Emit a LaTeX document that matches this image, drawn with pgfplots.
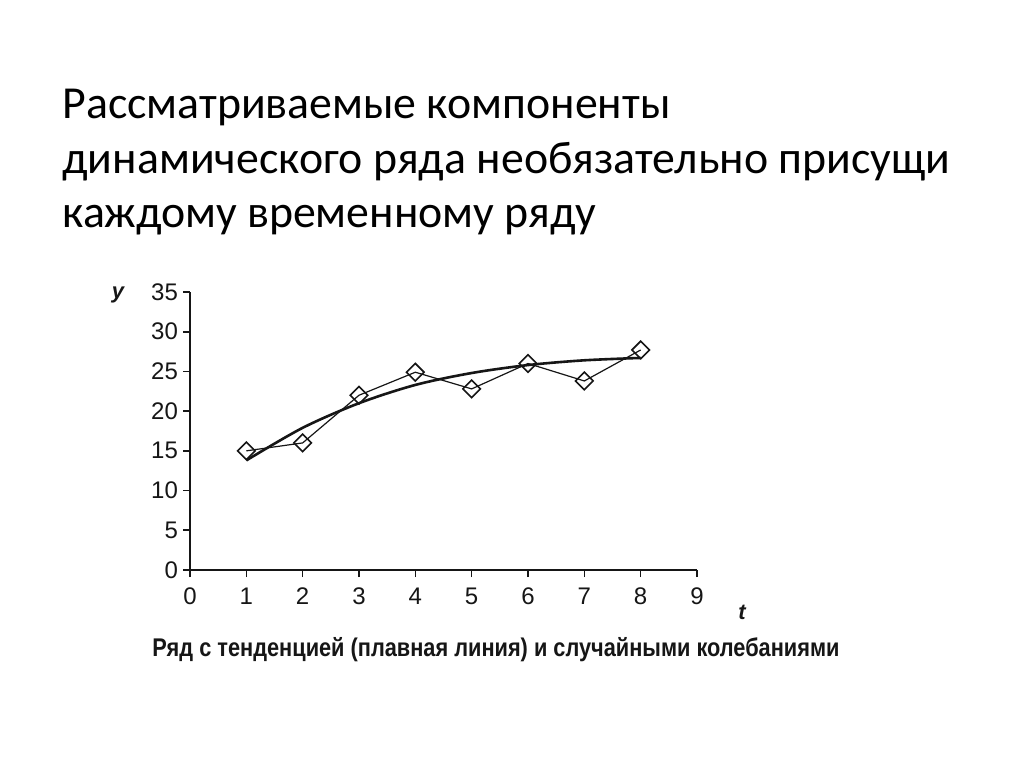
\documentclass[border=0pt]{standalone}
\usepackage{pgfplots}
\pgfplotsset{compat=1.18}
\usepackage{fontspec}
\setmainfont{Liberation Sans}
\newfontfamily\titlefont{Carlito}
\newfontfamily\capfont[FakeStretch=0.85]{Liberation Sans}
\definecolor{ink}{RGB}{22,22,22}

\begin{document}
\begin{tikzpicture}
% page: 1024x767 px at 0.5pt per px
\fill[white] (0pt,0pt) rectangle (512pt,383.5pt);
% title, three lines
\begin{scope}[every node/.style={anchor=base west,inner sep=0pt,font=\titlefont\fontsize{22.9}{27}\selectfont,text=black}]
\node at (31pt,324pt) {Рассматриваемые компоненты};
\node at (31pt,296.5pt) {динамического ряда необязательно присущи};
\node at (31pt,269.5pt) {каждому временному ряду};
\end{scope}
\begin{axis}[at={(95pt,98.5pt)},anchor=south west,scale only axis,
  width=253.5pt,height=139pt,
  xmin=0,xmax=9,ymin=0,ymax=35,
  axis lines=left,axis line style={-,line width=0.9pt,ink},
  xtick={0,...,9},ytick={0,5,...,35},
  tick align=outside,major tick length=3.5pt,
  tick style={ink,line width=0.8pt},
  tick label style={font=\fontsize{12}{14}\selectfont,text=ink},
  xticklabel style={text height=8.6pt,text depth=0pt,yshift=-1.5pt},
  yticklabel style={xshift=1pt},
  /pgf/number format/assume math mode=true,
  clip=false]
% trend (smooth line)
\addplot[ink,line width=1.3pt,smooth] coordinates {
  (1,13.8) (2,17.9) (3,21.0) (4,23.3) (5,24.8) (6,25.8) (7,26.4) (8,26.7)};
% observed series
\addplot[ink,line width=0.6pt,mark=square,mark size=3.1pt,
  mark options={rotate=45,fill=white,line width=0.8pt}] coordinates {
  (1,15.0) (2,16.0) (3,22.0) (4,24.9) (5,22.8) (6,26.0) (7,23.8) (8,27.7)};
\node[font=\itshape\bfseries\fontsize{11}{13}\selectfont,text=ink] at (axis cs:9.8,-5.3) {t};
\node[font=\itshape\bfseries\fontsize{11}{13}\selectfont,text=ink] at (axis cs:-1.28,34.6) {y};
\end{axis}
\node[inner sep=0pt,font=\capfont\bfseries\fontsize{12.8}{15}\selectfont,text=ink] at (248pt,58.5pt) {Ряд с тенденцией (плавная линия) и случайными колебаниями};
\end{tikzpicture}
\end{document}
